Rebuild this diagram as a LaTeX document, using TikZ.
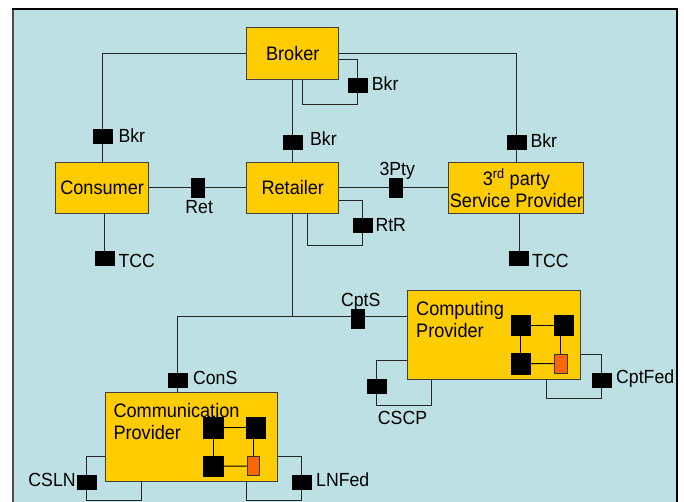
\documentclass[tikz,border=0pt]{standalone}
\usepackage{fontspec}
\newfontfamily\dfont[FakeStretch=0.93]{Liberation Sans}
\definecolor{bgblue}{HTML}{BCE0E3}
\definecolor{boxy}{HTML}{FFCC00}
\definecolor{orng}{HTML}{FF6600}
\pgfdeclarelayer{back}
\pgfdeclarelayer{front}
\pgfsetlayers{back,main,front}
\begin{document}
\begin{tikzpicture}[x=1pt,y=-1pt,
  comp/.style={draw=black!75, fill=boxy, line width=0.9pt, inner sep=0pt, align=center,
    font=\dfont\fontsize{19.5}{21.5}\selectfont},
  boxtext/.style={inner sep=0pt, align=left, font=\dfont\fontsize{19.5}{22.3}\selectfont},
  hport/.style={fill=black, draw=black, inner sep=0pt, minimum width=19pt, minimum height=14pt},
  vport/.style={fill=black, draw=black, inner sep=0pt, minimum width=13pt, minimum height=19.5pt},
  isq/.style={fill=black, draw=black, inner sep=0pt, minimum width=19.5pt, minimum height=20.5pt},
  osq/.style={fill=orng, draw=black!80, line width=0.8pt, inner sep=0pt, minimum width=12.5pt, minimum height=19pt},
  lbl/.style={inner sep=0pt, text height=13.6pt, text depth=0pt, font=\dfont\fontsize{19}{21}\selectfont},
  wire/.style={draw=black!85, line width=0.9pt},
  iwire/.style={draw=black, line width=0.9pt}]
\useasboundingbox (0,0) rectangle (684,502);
\begin{pgfonlayer}{back}
\begin{scope}
\clip (0,0) rectangle (684,502);
\fill[bgblue] (13,9) rectangle (677,520);
\draw[black!70, line width=2pt] (13,520) -- (13,9);
\draw[black, line width=1.5pt] (12,9) -- (677,9) -- (677,520);
\end{scope}
\end{pgfonlayer}

% components
\node[comp, minimum width=92pt, minimum height=52pt] (broker) at (292.8,53.3) {Broker};
\node[comp, minimum width=93pt, minimum height=51pt] (consumer) at (102.1,187.8) {Consumer};
\node[comp, minimum width=92pt, minimum height=51pt] (retailer) at (292.8,187.8) {Retailer};
\node[comp, minimum width=135pt, minimum height=51pt] (third) at (516.4,187.8) {3\textsuperscript{rd} party\\Service Provider};
\node[comp, minimum width=173pt, minimum height=89pt] (computing) at (494,334.7) {};
\node[comp, minimum width=172pt, minimum height=89pt] (comm) at (191.3,437.2) {};
\node[boxtext, anchor=north west] (computingtxt) at (416,300.7) {Computing\\Provider};
\node[boxtext, anchor=north west] (commtxt) at (113.3,402.7) {Communication\\Provider};

% ports
\begin{pgfonlayer}{front}
\node[hport] (bkrL) at (102.2,136.3) {};
\node[hport] (bkrM) at (292.8,142.7) {};
\node[hport] (bkrR) at (516.3,142.7) {};
\node[hport] (bkrS) at (357.2,85) {};
\node[vport] (ret) at (197.2,187.8) {};
\node[vport] (pty) at (395.7,187.8) {};
\node[hport] (rtr) at (362.6,225.3) {};
\node[hport] (tccC) at (104.8,258) {};
\node[hport] (tccT) at (519,258) {};
\node[vport] (cpts) at (357.9,318.8) {};
\node[hport] (cons) at (177.6,379.7) {};
\node[hport] (cscp) at (376.7,386) {};
\node[hport] (cptfed) at (601.3,379.7) {};
\node[hport] (csln) at (86.7,482.3) {};
\node[hport] (lnfed) at (301.3,482.3) {};
% inner squares
\node[isq] (cTL) at (520.6,325.3) {};
\node[isq] (cTR) at (563.5,325.3) {};
\node[isq] (cBL) at (520.6,363.5) {};
\node[osq] (cOR) at (560.8,363.7) {};
\node[isq] (mTL) at (213,427.7) {};
\node[isq] (mTR) at (255.8,427.7) {};
\node[isq] (mBL) at (213,466) {};
\node[osq] (mOR) at (253.2,466.2) {};
\end{pgfonlayer}

% loop corners and junction
\coordinate (bkrloop) at (302,104);
\coordinate (rtrloop) at (307.4,245);
\coordinate (junc) at (292.8,316.7);
\coordinate (cscploop) at (431.7,405);
\coordinate (cfloop) at (546.7,398.7);
\coordinate (cslnloop) at (141.7,500.5);
\coordinate (lnloop) at (246.7,500.5);

% wires
\draw[wire] (broker.west) -| (consumer.north);
\draw[wire] (broker.east) -| (third.north);
\draw[wire] (broker.south) -- (retailer.north);
\draw[wire] (broker.east |- 0,59.3) -| (bkrS.center) |- (bkrloop) -- (bkrloop |- broker.south);
\draw[wire] (consumer.east) -- (retailer.west);
\draw[wire] (retailer.east) -- (third.west);
\draw[wire] (retailer.east |- 0,200) -| (rtr.center) |- (rtrloop) -- (rtrloop |- retailer.south);
\draw[wire] (consumer.south -| tccC) -- (tccC.center);
\draw[wire] (third.south -| tccT) -- (tccT.center);
\draw[wire] (retailer.south) -- (junc) -- (junc -| computing.west);
\draw[wire] (junc) -- (junc -| cons) -- (comm.north -| cons);
\draw[wire] (computing.west |- 0,360.3) -| (cscp.center) |- (cscploop) -- (cscploop |- computing.south);
\draw[wire] (computing.east |- 0,354) -| (cptfed.center) |- (cfloop) -- (cfloop |- computing.south);
\draw[wire] (comm.west |- 0,456.7) -| (csln.center) |- (cslnloop) -- (cslnloop |- comm.south);
\draw[wire] (comm.east |- 0,456.7) -| (lnfed.center) |- (lnloop) -- (lnloop |- comm.south);

% inner wires
\draw[iwire] (cTL) -- (cTR);
\draw[iwire] (cTL) -- (cBL);
\draw[iwire] (cOR.north) -- (cOR.north |- cTR.south);
\draw[iwire] (cBL) -- (cOR);
\draw[iwire] (mTL) -- (mTR);
\draw[iwire] (mTL) -- (mBL);
\draw[iwire] (mOR.north) -- (mOR.north |- mTR.south);
\draw[iwire] (mBL) -- (mOR);

% labels
\node[lbl, anchor=west] (lbkrL) at (118.4,136) {Bkr};
\node[lbl, anchor=west] (lbkrM) at (310,139.2) {Bkr};
\node[lbl, anchor=west] (lbkrR) at (530.3,140.8) {Bkr};
\node[lbl, anchor=west] (lbkrS) at (371.7,83.7) {Bkr};
\node[lbl] (lret) at (199.2,206.7) {Ret};
\node[lbl] (lpty) at (397.3,169.2) {3Pty};
\node[lbl, anchor=west] (lrtr) at (375.3,225) {RtR};
\node[lbl, anchor=west] (ltccC) at (118.4,260.8) {TCC};
\node[lbl, anchor=west] (ltccT) at (532,260.8) {TCC};
\node[lbl] (lcpts) at (360.7,299.5) {CptS};
\node[lbl, anchor=west] (lcons) at (192.9,377.5) {ConS};
\node[lbl] (lcscp) at (402.5,417.5) {CSCP};
\node[lbl, anchor=west] (lcptfed) at (616,376.7) {CptFed};
\node[lbl, anchor=east] (lcsln) at (75.8,480) {CSLN};
\node[lbl, anchor=west] (llnfed) at (316,480) {LNFed};
\end{tikzpicture}
\end{document}
